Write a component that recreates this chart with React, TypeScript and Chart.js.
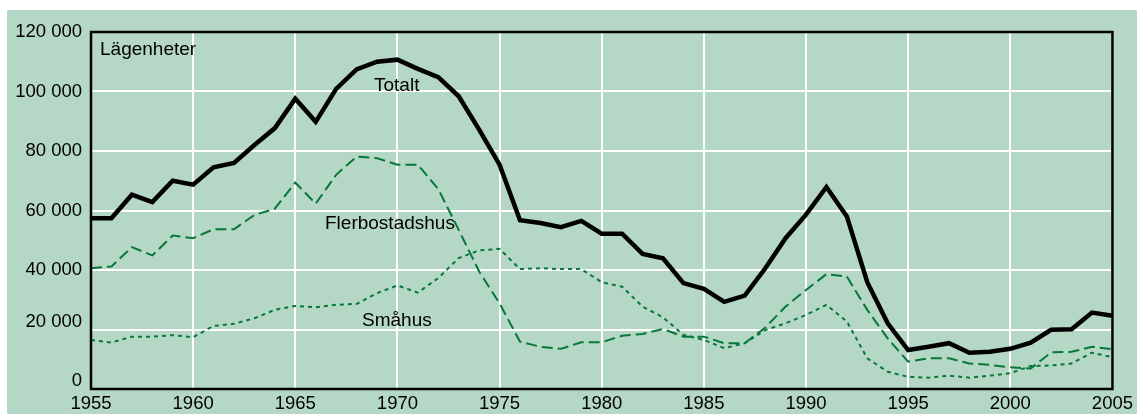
import React, { useEffect, useRef } from "react";
import { Chart, registerables } from "chart.js";

Chart.register(...registerables);

const years = [
  1955, 1956, 1957, 1958, 1959, 1960, 1961, 1962, 1963, 1964,
  1965, 1966, 1967, 1968, 1969, 1970, 1971, 1972, 1973, 1974,
  1975, 1976, 1977, 1978, 1979, 1980, 1981, 1982, 1983, 1984,
  1985, 1986, 1987, 1988, 1989, 1990, 1991, 1992, 1993, 1994,
  1995, 1996, 1997, 1998, 1999, 2000, 2001, 2002, 2003, 2004, 2005,
];

const totalt = [
  57400, 57400, 65300, 62800, 70000, 68700, 74500, 76000, 82000, 87700,
  97600, 89800, 100900, 107400, 110000, 110700, 107600, 104800, 98400, 87200,
  75400, 56700, 55800, 54400, 56500, 52200, 52200, 45400, 43900, 35600,
  33700, 29300, 31400, 40500, 50700, 58600, 67900, 58000, 35900, 22100,
  13100, 14200, 15400, 12200, 12500, 13500, 15600, 19900, 20100, 25700, 24600,
];

const flerbostadshus = [
  40600, 41200, 47700, 44900, 51600, 50700, 53700, 53700, 58500, 60600,
  69400, 62300, 72000, 78100, 77600, 75400, 75400, 67200, 53500, 39500,
  28800, 15900, 14200, 13500, 15700, 15700, 17900, 18500, 20200, 17600,
  17600, 15400, 15400, 20600, 27700, 33300, 38600, 37800, 26600, 17000,
  9200, 10300, 10300, 8600, 8100, 7300, 6900, 12300, 12500, 14200, 13400,
];

const smahus = [
  16500, 15600, 17600, 17600, 18100, 17400, 21200, 21900, 23800, 26600,
  27900, 27500, 28300, 28600, 32200, 34800, 32400, 37300, 44000, 46600,
  47100, 40300, 40600, 40300, 40300, 35900, 34400, 27700, 24100, 18200,
  16500, 13700, 15400, 19800, 22100, 24900, 28300, 22700, 10300, 5800,
  4100, 3800, 4500, 3800, 4500, 5300, 7700, 7900, 8600, 12200, 10700,
];

const annotations = [
  { text: "Lägenheter", x: 100, y: 55 },
  { text: "Totalt", x: 374, y: 91 },
  { text: "Flerbostadshus", x: 325, y: 229 },
  { text: "Småhus", x: 362, y: 326 },
];

const FONT = "'Liberation Sans', Arial, Helvetica, sans-serif";
const BG = "#b5d7c6";
const GREEN = "#067838";

const bgPlugin = {
  id: "bgPanel",
  beforeDraw(chart: any) {
    const { ctx, width, height } = chart;
    ctx.save();
    ctx.fillStyle = "#ffffff";
    ctx.fillRect(0, 0, width, height);
    ctx.fillStyle = BG;
    ctx.fillRect(7, 10, width - 7, height - 10);
    ctx.restore();
  },
};

const framePlugin = {
  id: "frameText",
  afterDatasetsDraw(chart: any) {
    const { ctx, chartArea } = chart;
    ctx.save();
    ctx.strokeStyle = "#000000";
    ctx.lineWidth = 2.5;
    ctx.strokeRect(
      chartArea.left,
      chartArea.top,
      chartArea.right - chartArea.left,
      chartArea.bottom - chartArea.top
    );
    ctx.fillStyle = "#000000";
    ctx.font = `19px ${FONT}`;
    ctx.textBaseline = "alphabetic";
    ctx.textAlign = "left";
    for (const a of annotations) {
      ctx.fillText(a.text, a.x, a.y);
    }
    ctx.restore();
  },
};

export default function App() {
  const ref = useRef<HTMLCanvasElement | null>(null);

  useEffect(() => {
    document.body.style.margin = "0";
    const canvas = ref.current;
    if (!canvas) return;
    const toPts = (arr: number[]) => years.map((x, i) => ({ x, y: arr[i] }));
    const chart = new Chart(canvas, {
      type: "line",
      data: {
        datasets: [
          {
            label: "Flerbostadshus",
            data: toPts(flerbostadshus),
            borderColor: GREEN,
            borderWidth: 2,
            borderDash: [11, 5],
            pointRadius: 0,
            tension: 0,
            fill: false,
          },
          {
            label: "Småhus",
            data: toPts(smahus),
            borderColor: GREEN,
            borderWidth: 2,
            borderDash: [4, 4],
            pointRadius: 0,
            tension: 0,
            fill: false,
          },
          {
            label: "Totalt",
            data: toPts(totalt),
            borderColor: "#000000",
            borderWidth: 4.5,
            pointRadius: 0,
            tension: 0,
            fill: false,
          },
        ],
      },
      options: {
        responsive: false,
        animation: false,
        events: [],
        layout: { padding: { left: 0, top: 32, right: 23, bottom: 0 } },
        plugins: {
          legend: { display: false },
          tooltip: { enabled: false },
        },
        scales: {
          x: {
            type: "linear",
            min: 1955,
            max: 2005,
            grid: { color: "#ffffff", lineWidth: 2, drawTicks: false },
            border: { display: false },
            ticks: {
              stepSize: 5,
              padding: 4,
              maxRotation: 0,
              color: "#000000",
              font: { family: FONT, size: 18.5 },
              callback: (v: any) => String(v),
            },
            afterFit: (s: any) => {
              s.height = 25;
            },
          },
          y: {
            min: 0,
            max: 120000,
            grid: { color: "#ffffff", lineWidth: 2, drawTicks: false },
            border: { display: false },
            ticks: {
              stepSize: 20000,
              padding: 9,
              color: "#000000",
              font: { family: FONT, size: 18.5, lineHeight: 0.86 },
              callback: (v: any) => {
                const n = Number(v);
                if (n === 0) return ["0", ""];
                const s = `${n / 1000} 000`;
                return n === 20000 ? [s, ""] : s;
              },
            },
            afterFit: (s: any) => {
              s.width = 91;
            },
          },
        },
      },
      plugins: [bgPlugin, framePlugin],
    });
    return () => chart.destroy();
  }, []);

  return (
    <div style={{ width: 1137, height: 414 }}>
      <canvas ref={ref} width={1137} height={414} style={{ display: "block" }} />
    </div>
  );
}
